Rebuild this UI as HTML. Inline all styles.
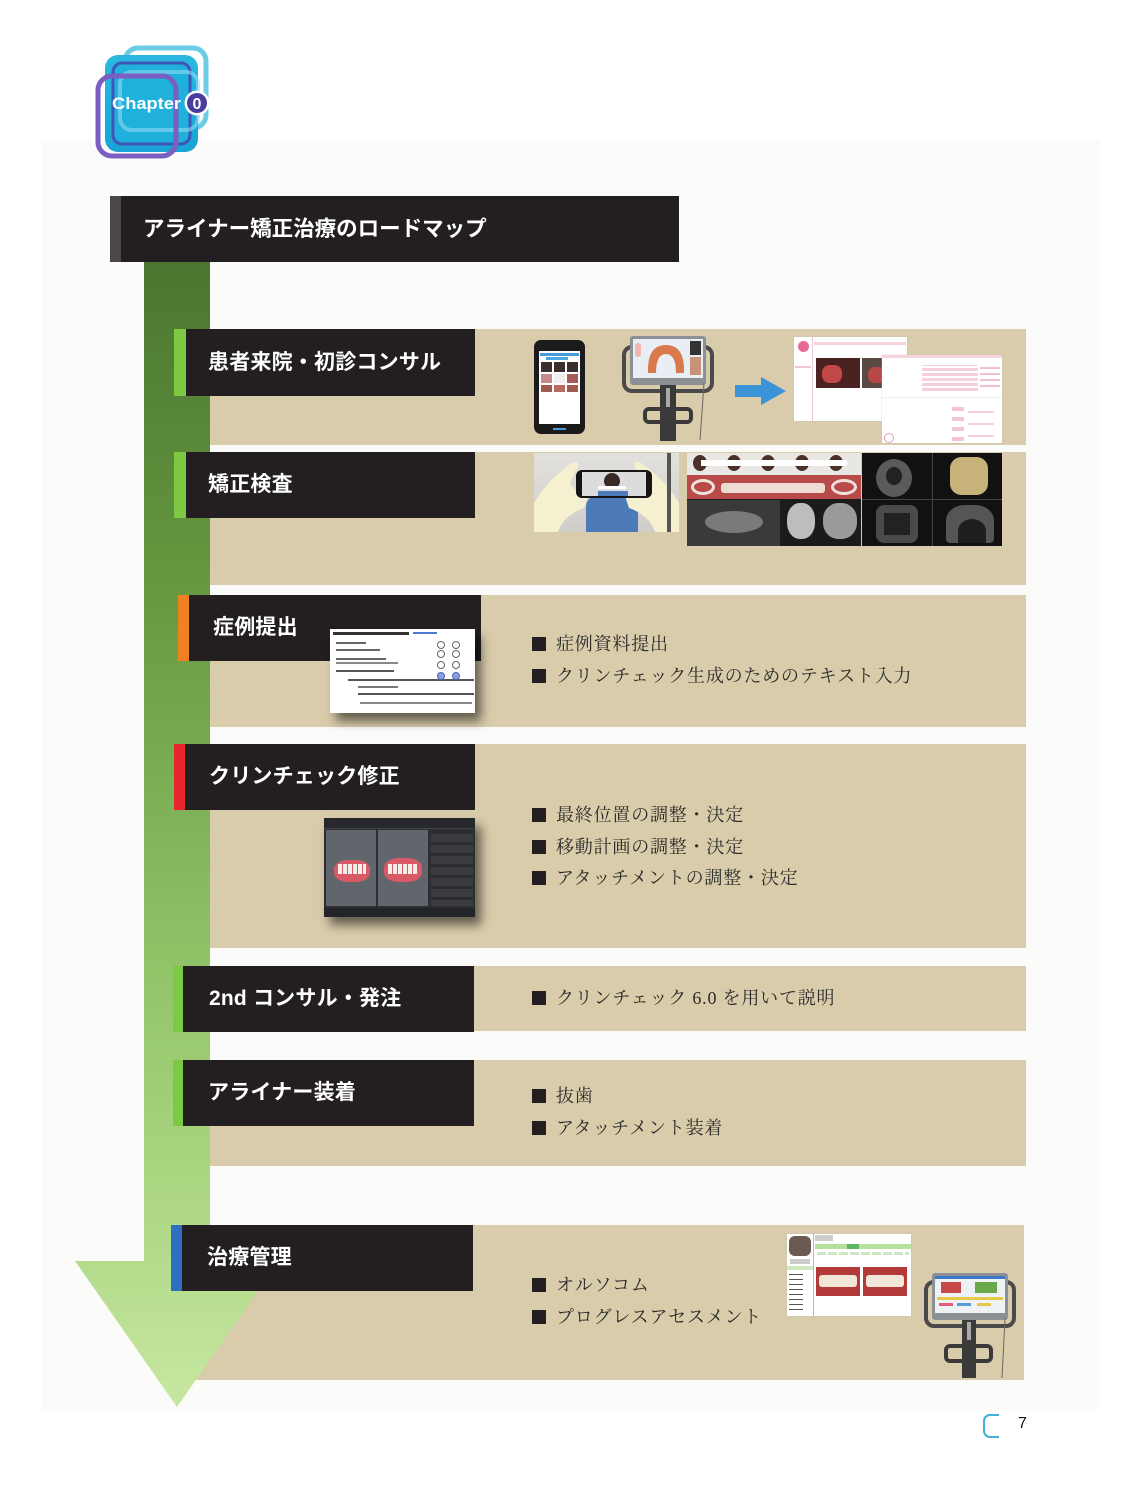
<!DOCTYPE html>
<html lang="ja">
<head>
<meta charset="utf-8">
<style>
  html,body{margin:0;padding:0;background:#fff;}
  #page{position:relative;width:1126px;height:1500px;overflow:hidden;background:#fff;}
  .abs{position:absolute;}
  .panel{position:absolute;background:#d9ccab;z-index:1;}
  .label{position:absolute;background:#231f20;z-index:3;height:66px;}
  .label .strip{position:absolute;left:0;top:0;bottom:0;width:11px;}
  .label .txt{position:absolute;top:0;height:66px;line-height:66px;color:#fff;
    font-family:"Liberation Sans","Noto Sans CJK JP",sans-serif;font-weight:bold;font-size:21px;white-space:nowrap;letter-spacing:0.2px;}
  .bul{position:absolute;z-index:4;left:532px;height:24px;white-space:nowrap;}
  .bul .sq{position:absolute;left:0;top:5px;width:14px;height:14px;background:#231f20;}
  .bul .t{position:absolute;left:24px;top:0;line-height:24px;font-size:18px;color:#2b2b2b;
    font-family:"Liberation Serif","Noto Serif CJK SC",serif;letter-spacing:0.8px;}
  .img{position:absolute;z-index:4;overflow:hidden;}
</style>
</head>
<body>
<div id="page">

  <!-- faint page background -->
  <div class="abs" style="left:42px;top:140px;width:1058px;height:1270px;background:#fbfbfa;"></div>

  <!-- Chapter logo -->
  <svg class="abs" style="left:90px;top:40px;z-index:5" width="130" height="125" viewBox="90 40 130 125">
    <defs>
      <linearGradient id="cy" x1="0" y1="0" x2="0" y2="1">
        <stop offset="0" stop-color="#2bb8e0"/>
        <stop offset="1" stop-color="#18a4d4"/>
      </linearGradient>
    </defs>
    <rect x="125" y="48" width="81" height="80" rx="13" fill="none" stroke="#6cccE6" stroke-width="5"/>
    <rect x="105" y="55" width="93" height="97" rx="13" fill="url(#cy)"/>
    <rect x="113" y="63" width="77" height="81" rx="9" fill="#1fb0dc" stroke="#3d56b8" stroke-width="3"/>
    <rect x="120" y="72" width="78" height="58" rx="12" fill="none" stroke="#8fdcf0" stroke-width="4" opacity="0.6"/>
    <rect x="98" y="76" width="78" height="80" rx="14" fill="none" stroke="#7a5ec0" stroke-width="5"/>
    <text x="112" y="109" font-family="Liberation Sans, sans-serif" font-weight="bold" font-size="17" fill="#fff" textLength="69" lengthAdjust="spacingAndGlyphs">Chapter</text>
    <circle cx="197" cy="103" r="12.5" fill="#fff"/>
    <circle cx="197" cy="103" r="10" fill="#4a3c9c"/>
    <text x="197" y="109" text-anchor="middle" font-family="Liberation Sans, sans-serif" font-weight="bold" font-size="16" fill="#fff">0</text>
  </svg>

  <!-- Title bar -->
  <div class="abs" style="left:110px;top:196px;width:569px;height:66px;background:#231f20;z-index:3;">
    <div class="abs" style="left:0;top:0;width:11px;height:66px;background:#4b464a;"></div>
    <div class="abs" style="left:33px;top:0;height:66px;line-height:66px;color:#fff;font-family:'Liberation Sans','Noto Sans CJK JP',sans-serif;font-weight:bold;font-size:21.5px;white-space:nowrap;">アライナー矯正治療のロードマップ</div>
  </div>

  <!-- Tan panels -->
  <div class="panel" style="left:209px;top:329px;width:817px;height:116px;"></div>
  <div class="panel" style="left:209px;top:452px;width:817px;height:133px;"></div>
  <div class="panel" style="left:209px;top:595px;width:817px;height:132px;"></div>
  <div class="panel" style="left:209px;top:744px;width:817px;height:204px;"></div>
  <div class="panel" style="left:209px;top:966px;width:817px;height:65px;"></div>
  <div class="panel" style="left:209px;top:1060px;width:817px;height:106px;"></div>
  <div class="panel" style="left:180px;top:1225px;width:844px;height:155px;"></div>

  <!-- Green arrow -->
  <svg class="abs" style="left:0;top:0;z-index:2" width="1126" height="1500">
    <defs>
      <linearGradient id="gr" gradientUnits="userSpaceOnUse" x1="0" y1="262" x2="0" y2="1407">
        <stop offset="0" stop-color="#4a762f"/>
        <stop offset="0.3" stop-color="#679a41"/>
        <stop offset="0.6" stop-color="#8fc266"/>
        <stop offset="0.8" stop-color="#aad581"/>
        <stop offset="1" stop-color="#c6e7a0"/>
      </linearGradient>
    </defs>
    <polygon points="144,262 210,262 210,1261 279,1261 177,1407 75,1261 144,1261" fill="url(#gr)"/>
  </svg>

  <!-- Labels -->
  <div class="label" style="left:174px;top:329px;width:301px;height:67px;">
    <div class="strip" style="background:#7dc943;width:12px;"></div>
    <div class="txt" style="left:34px;height:67px;line-height:67px;">患者来院・初診コンサル</div>
  </div>
  <div class="label" style="left:174px;top:452px;width:301px;">
    <div class="strip" style="background:#7dc943;width:12px;"></div>
    <div class="txt" style="left:34px;">矯正検査</div>
  </div>
  <div class="label" style="left:178px;top:595px;width:303px;">
    <div class="strip" style="background:#f08022;"></div>
    <div class="txt" style="left:35px;">症例提出</div>
  </div>
  <div class="label" style="left:174px;top:744px;width:301px;">
    <div class="strip" style="background:#e8262b;"></div>
    <div class="txt" style="left:35px;">クリンチェック修正</div>
  </div>
  <div class="label" style="left:173px;top:966px;width:301px;">
    <div class="strip" style="background:#7dc943;width:10px;"></div>
    <div class="txt" style="left:36px;">2nd コンサル・発注</div>
  </div>
  <div class="label" style="left:173px;top:1060px;width:301px;">
    <div class="strip" style="background:#7dc943;width:10px;"></div>
    <div class="txt" style="left:35px;">アライナー装着</div>
  </div>
  <div class="label" style="left:171px;top:1225px;width:302px;">
    <div class="strip" style="background:#2f6fc0;"></div>
    <div class="txt" style="left:36px;">治療管理</div>
  </div>

  <!-- Bullets -->
  <div class="bul" style="top:632px;"><div class="sq"></div><div class="t">症例資料提出</div></div>
  <div class="bul" style="top:664px;"><div class="sq"></div><div class="t">クリンチェック生成のためのテキスト入力</div></div>

  <div class="bul" style="top:803px;"><div class="sq"></div><div class="t">最終位置の調整・決定</div></div>
  <div class="bul" style="top:835px;"><div class="sq"></div><div class="t">移動計画の調整・決定</div></div>
  <div class="bul" style="top:866px;"><div class="sq"></div><div class="t">アタッチメントの調整・決定</div></div>

  <div class="bul" style="top:986px;"><div class="sq"></div><div class="t">クリンチェック 6.0 を用いて説明</div></div>

  <div class="bul" style="top:1084px;"><div class="sq"></div><div class="t">抜歯</div></div>
  <div class="bul" style="top:1116px;"><div class="sq"></div><div class="t">アタッチメント装着</div></div>

  <div class="bul" style="top:1273px;"><div class="sq"></div><div class="t">オルソコム</div></div>
  <div class="bul" style="top:1305px;"><div class="sq"></div><div class="t">プログレスアセスメント</div></div>

  <!-- ===== Row 1 images ===== -->
  <!-- phone -->
  <div class="img" style="left:534px;top:340px;width:51px;height:94px;background:#1b1b1b;border-radius:7px;">
    <div class="abs" style="left:5px;top:11px;width:41px;height:73px;background:#fff;"></div>
    <div class="abs" style="left:6px;top:13px;width:39px;height:3px;background:#4a9ad6;"></div>
    <div class="abs" style="left:12px;top:17px;width:22px;height:3px;background:#4aa8e0;"></div>
    <div class="abs" style="left:7px;top:22px;width:11px;height:10px;background:#3b2e2e;"></div>
    <div class="abs" style="left:20px;top:22px;width:11px;height:10px;background:#3b2e2e;"></div>
    <div class="abs" style="left:33px;top:22px;width:11px;height:10px;background:#3b2e2e;"></div>
    <div class="abs" style="left:7px;top:34px;width:11px;height:9px;background:#c98a8a;"></div>
    <div class="abs" style="left:20px;top:34px;width:11px;height:9px;background:#f2eeee;"></div>
    <div class="abs" style="left:33px;top:34px;width:11px;height:9px;background:#a65a5a;"></div>
    <div class="abs" style="left:7px;top:45px;width:11px;height:7px;background:#a05a50;"></div>
    <div class="abs" style="left:20px;top:45px;width:11px;height:7px;background:#b86a60;"></div>
    <div class="abs" style="left:33px;top:45px;width:11px;height:7px;background:#a05a50;"></div>
    <div class="abs" style="left:19px;top:88px;width:13px;height:2px;background:#4a9ad6;"></div>
  </div>
  <!-- scanner 1 -->
  <svg class="img" style="left:618px;top:333px;" width="100" height="110" viewBox="0 0 100 110">
    <rect x="6" y="14" width="88" height="44" rx="8" fill="none" stroke="#4a4a4a" stroke-width="4"/>
    <rect x="42" y="50" width="16" height="58" fill="#3a3a3a"/>
    <rect x="48" y="55" width="4" height="20" fill="#aaa"/>
    <rect x="27" y="76" width="46" height="13" rx="4" fill="none" stroke="#3a3a3a" stroke-width="4"/>
    <rect x="12" y="3" width="76" height="49" rx="3" fill="#8c9094"/>
    <rect x="15" y="6" width="70" height="39" fill="#e8eef3"/>
    <path d="M30 40 Q29 12 48 12 Q67 12 66 40 L58 40 Q58 21 48 21 Q38 21 38 40 Z" fill="#d97a4e"/>
    <rect x="72" y="8" width="11" height="14" fill="#333"/>
    <rect x="72" y="24" width="11" height="18" fill="#c7917a"/>
    <rect x="17" y="10" width="6" height="14" rx="3" fill="#f2b4b4"/>
    <line x1="86" y1="50" x2="82" y2="107" stroke="#666" stroke-width="1"/>
  </svg>
  <!-- blue arrow -->
  <svg class="img" style="left:734px;top:376px;" width="54" height="30" viewBox="0 0 54 30">
    <rect x="1" y="9" width="30" height="12" fill="#3b93d8"/>
    <polygon points="27,1 52,15 27,29" fill="#3b93d8"/>
  </svg>
  <!-- screenshots -->
  <div class="img" style="left:794px;top:337px;width:113px;height:84px;background:#fff;box-shadow:0 0 1px #bbb;">
    <div class="abs" style="left:0;top:0;width:18px;height:84px;border-right:1px solid #f0c6d4;"></div>
    <div class="abs" style="left:4px;top:4px;width:11px;height:11px;border-radius:50%;background:#e76b96;"></div>
    <div class="abs" style="left:1px;top:29px;width:16px;height:2px;background:#f3c5d5;"></div>
    <div class="abs" style="left:20px;top:5px;width:92px;height:3px;background:#f6d3df;"></div>
    <div class="abs" style="left:22px;top:21px;width:44px;height:30px;background:#4a2222;"></div>
    <div class="abs" style="left:28px;top:28px;width:20px;height:18px;background:#c24848;border-radius:40%;"></div>
    <div class="abs" style="left:68px;top:21px;width:44px;height:30px;background:#5a4a44;"></div>
    <div class="abs" style="left:74px;top:30px;width:18px;height:16px;background:#b84848;border-radius:40%;"></div>
  </div>
  <div class="img" style="left:882px;top:355px;width:120px;height:88px;background:#fff;box-shadow:0 0 1px #bbb;">
    <div class="abs" style="left:0;top:0;width:120px;height:3px;background:#f6d3df;"></div>
    <div class="abs" style="left:40px;top:10px;width:56px;height:26px;background:repeating-linear-gradient(0deg,#f7cfdc 0 3px,#fff 3px 5px);"></div>
    <div class="abs" style="left:98px;top:10px;width:20px;height:22px;background:repeating-linear-gradient(0deg,#f0c0d0 0 2px,#fff 2px 6px);"></div>
    <div class="abs" style="left:0;top:42px;width:120px;height:1px;background:#eee;"></div>
    <div class="abs" style="left:70px;top:48px;width:12px;height:38px;background:repeating-linear-gradient(0deg,#f3c5d5 0 4px,#fff 4px 10px);"></div>
    <div class="abs" style="left:86px;top:52px;width:26px;height:30px;background:repeating-linear-gradient(0deg,#f6d0dc 0 2px,#fff 2px 12px);"></div>
    <div class="abs" style="left:2px;top:78px;width:8px;height:8px;border-radius:50%;border:1px solid #e99bb6;"></div>
  </div>

  <!-- ===== Row 2 images ===== -->
  <div class="img" style="left:534px;top:453px;width:145px;height:79px;background:#d7d6d2;">
    <div class="abs" style="left:0;top:0;width:145px;height:79px;background:linear-gradient(180deg,#e2e1dd,#cfcdca);"></div>
    <div class="abs" style="left:52px;top:42px;width:52px;height:37px;background:#4d7ab8;border-radius:12px 12px 0 0;"></div>
    <svg class="abs" style="left:0;top:0" width="145" height="79">
      <path d="M0 79 L0 50 Q15 25 38 10 Q45 6 44 14 L36 30 Q40 40 55 40 L50 55 Q30 62 24 79 Z" fill="#f4f0d0"/>
      <path d="M145 79 L145 50 Q130 25 107 10 Q100 6 101 14 L109 30 Q105 40 90 40 L95 55 Q115 62 121 79 Z" fill="#f4f0d0"/>
    </svg>
    <div class="abs" style="left:42px;top:17px;width:76px;height:28px;background:#151515;border-radius:6px;"></div>
    <div class="abs" style="left:48px;top:19px;width:64px;height:24px;background:#dcdcdc;"></div>
    <div class="abs" style="left:70px;top:20px;width:16px;height:16px;border-radius:50%;background:#3a2a26;"></div>
    <div class="abs" style="left:64px;top:33px;width:28px;height:3px;background:#fff;"></div>
    <div class="abs" style="left:64px;top:38px;width:30px;height:5px;background:#4d7ab8;"></div>
    <div class="abs" style="left:133px;top:0;width:4px;height:79px;background:#555;"></div>
  </div>
  <div class="img" style="left:687px;top:453px;width:174px;height:93px;background:#1b1b1b;">
    <div class="abs" style="left:0;top:0;width:174px;height:22px;background:#e9e7e3;"></div>
    <div class="abs" style="left:6px;top:2px;width:14px;height:16px;border-radius:50%;background:#4a3028;"></div>
    <div class="abs" style="left:40px;top:2px;width:14px;height:16px;border-radius:50%;background:#4a3028;"></div>
    <div class="abs" style="left:74px;top:2px;width:14px;height:16px;border-radius:50%;background:#4a3028;"></div>
    <div class="abs" style="left:108px;top:2px;width:14px;height:16px;border-radius:50%;background:#4a3028;"></div>
    <div class="abs" style="left:142px;top:2px;width:14px;height:16px;border-radius:50%;background:#4a3028;"></div>
    <div class="abs" style="left:14px;top:7px;width:146px;height:6px;background:#fff;"></div>
    <div class="abs" style="left:0;top:22px;width:174px;height:24px;background:#b84a4a;"></div>
    <div class="abs" style="left:34px;top:30px;width:104px;height:10px;background:#ecdcd4;border-radius:3px;"></div>
    <div class="abs" style="left:4px;top:26px;width:24px;height:16px;border-radius:50%;border:3px solid #efe2da;box-sizing:border-box;"></div>
    <div class="abs" style="left:144px;top:26px;width:26px;height:16px;border-radius:50%;border:3px solid #efe2da;box-sizing:border-box;"></div>
    <div class="abs" style="left:0;top:47px;width:93px;height:46px;background:#3a3a3a;"></div>
    <div class="abs" style="left:18px;top:58px;width:58px;height:22px;border-radius:50%;background:#7a7a7a;"></div>
    <div class="abs" style="left:100px;top:50px;width:28px;height:36px;border-radius:45%;background:#bdbdbd;"></div>
    <div class="abs" style="left:136px;top:50px;width:34px;height:36px;border-radius:45%;background:#9a9a9a;"></div>
  </div>
  <div class="img" style="left:862px;top:453px;width:140px;height:93px;background:#111;">
    <div class="abs" style="left:14px;top:6px;width:36px;height:38px;border-radius:50%;background:#5a5a5a;"></div>
    <div class="abs" style="left:24px;top:14px;width:16px;height:18px;border-radius:50%;background:#222;"></div>
    <div class="abs" style="left:88px;top:4px;width:38px;height:38px;background:#c9b27a;border-radius:30%;"></div>
    <div class="abs" style="left:0;top:46px;width:140px;height:1px;background:#444;"></div>
    <div class="abs" style="left:70px;top:0;width:1px;height:93px;background:#444;"></div>
    <div class="abs" style="left:14px;top:52px;width:42px;height:38px;background:#4a4a4a;border-radius:20%;"></div>
    <div class="abs" style="left:22px;top:60px;width:26px;height:22px;background:#222;"></div>
    <div class="abs" style="left:84px;top:52px;width:48px;height:38px;background:#555;border-radius:40% 40% 10% 10%;"></div>
    <div class="abs" style="left:96px;top:66px;width:28px;height:24px;background:#1e1e1e;border-radius:50% 50% 0 0;"></div>
  </div>

  <!-- ===== Row 3 screenshot ===== -->
  <div class="img" style="left:330px;top:629px;width:145px;height:84px;background:#fff;box-shadow:6px 8px 10px rgba(0,0,0,0.55);">
    <div class="abs" style="left:3px;top:3px;width:76px;height:3px;background:#333;"></div>
    <div class="abs" style="left:83px;top:3px;width:24px;height:2px;background:#4a7ad0;"></div>
    <div class="abs" style="left:6px;top:13px;width:30px;height:2px;background:#666;"></div>
    <div class="abs" style="left:6px;top:20px;width:44px;height:2px;background:#666;"></div>
    <div class="abs" style="left:6px;top:29px;width:50px;height:2px;background:#666;"></div>
    <div class="abs" style="left:6px;top:33px;width:62px;height:2px;background:#888;"></div>
    <div class="abs" style="left:6px;top:41px;width:58px;height:2px;background:#555;"></div>
    <div class="abs" style="left:18px;top:50px;width:126px;height:2px;background:#555;"></div>
    <div class="abs" style="left:28px;top:57px;width:40px;height:2px;background:#777;"></div>
    <div class="abs" style="left:28px;top:64px;width:116px;height:2px;background:#555;"></div>
    <div class="abs" style="left:30px;top:73px;width:112px;height:2px;background:#888;"></div>
    <div class="abs" style="left:107px;top:12px;width:6px;height:6px;border-radius:50%;border:1px solid #666;"></div>
    <div class="abs" style="left:122px;top:12px;width:6px;height:6px;border-radius:50%;border:1px solid #666;"></div>
    <div class="abs" style="left:107px;top:21px;width:6px;height:6px;border-radius:50%;border:1px solid #666;"></div>
    <div class="abs" style="left:122px;top:21px;width:6px;height:6px;border-radius:50%;border:1px solid #666;"></div>
    <div class="abs" style="left:107px;top:32px;width:6px;height:6px;border-radius:50%;border:1px solid #666;"></div>
    <div class="abs" style="left:122px;top:32px;width:6px;height:6px;border-radius:50%;border:1px solid #666;"></div>
    <div class="abs" style="left:107px;top:43px;width:6px;height:6px;border-radius:50%;border:1px solid #4a6ac0;background:#8aa0e0;"></div>
    <div class="abs" style="left:122px;top:43px;width:6px;height:6px;border-radius:50%;border:1px solid #4a6ac0;background:#8aa0e0;"></div>
  </div>

  <!-- ===== Row 4 screenshot ===== -->
  <div class="img" style="left:324px;top:818px;width:151px;height:99px;background:#2c2e32;box-shadow:6px 8px 10px rgba(0,0,0,0.55);">
    <div class="abs" style="left:0;top:0;width:151px;height:10px;background:#26282b;border-bottom:1px solid #444;"></div>
    <div class="abs" style="left:2px;top:12px;width:50px;height:76px;background:#61666d;"></div>
    <div class="abs" style="left:54px;top:12px;width:50px;height:76px;background:#61666d;"></div>
    <div class="abs" style="left:10px;top:42px;width:36px;height:22px;border-radius:40%;background:#d95a66;"></div>
    <div class="abs" style="left:14px;top:46px;width:28px;height:10px;background:repeating-linear-gradient(90deg,#f3eee8 0 4px,#d95a66 4px 5px);"></div>
    <div class="abs" style="left:60px;top:40px;width:38px;height:24px;border-radius:40%;background:#d95a66;"></div>
    <div class="abs" style="left:64px;top:46px;width:30px;height:10px;background:repeating-linear-gradient(90deg,#f3eee8 0 4px,#d95a66 4px 5px);"></div>
    <div class="abs" style="left:107px;top:16px;width:42px;height:72px;background:repeating-linear-gradient(180deg,#3a3c40 0 8px,#2a2c30 8px 11px);"></div>
    <div class="abs" style="left:0;top:90px;width:151px;height:9px;background:#222427;"></div>
  </div>

  <!-- ===== Row 7 images ===== -->
  <div class="img" style="left:787px;top:1234px;width:124px;height:82px;background:#fff;box-shadow:0 0 1px #bbb;">
    <div class="abs" style="left:2px;top:2px;width:22px;height:20px;background:#6a5a52;border-radius:6px;"></div>
    <div class="abs" style="left:3px;top:25px;width:20px;height:5px;background:#ccc;"></div>
    <div class="abs" style="left:0;top:32px;width:26px;height:4px;background:#cfe8c0;"></div>
    <div class="abs" style="left:26px;top:0;width:1px;height:82px;background:#9fd08a;"></div>
    <div class="abs" style="left:2px;top:40px;width:14px;height:40px;background:repeating-linear-gradient(180deg,#555 0 1px,#fff 1px 5px);"></div>
    <div class="abs" style="left:28px;top:1px;width:18px;height:6px;background:#ccc;"></div>
    <div class="abs" style="left:28px;top:10px;width:96px;height:5px;background:#b5e0a0;"></div>
    <div class="abs" style="left:60px;top:10px;width:12px;height:5px;background:#5cb85c;"></div>
    <div class="abs" style="left:30px;top:18px;width:92px;height:3px;background:repeating-linear-gradient(90deg,#cde8c0 0 9px,#fff 9px 11px);"></div>
    <div class="abs" style="left:29px;top:33px;width:44px;height:29px;background:#b23a3a;"></div>
    <div class="abs" style="left:32px;top:41px;width:38px;height:12px;background:#f2e6d8;border-radius:3px;"></div>
    <div class="abs" style="left:76px;top:33px;width:44px;height:29px;background:#b23a3a;"></div>
    <div class="abs" style="left:79px;top:41px;width:38px;height:12px;background:#f2e6d8;border-radius:3px;"></div>
  </div>
  <svg class="img" style="left:923px;top:1270px;" width="94" height="110" viewBox="0 0 94 110">
    <rect x="3" y="12" width="88" height="44" rx="8" fill="none" stroke="#4a4a4a" stroke-width="4"/>
    <rect x="39" y="48" width="14" height="60" fill="#3a3a3a"/>
    <rect x="44" y="52" width="4" height="18" fill="#aaa"/>
    <rect x="23" y="76" width="45" height="15" rx="4" fill="none" stroke="#3a3a3a" stroke-width="4"/>
    <rect x="9" y="3" width="76" height="47" rx="3" fill="#8c9094"/>
    <rect x="12" y="6" width="70" height="37" fill="#eef2f4"/>
    <rect x="12" y="6" width="70" height="3" fill="#3a7ac8"/>
    <rect x="18" y="12" width="20" height="11" fill="#c84848"/>
    <rect x="52" y="12" width="22" height="11" fill="#6aa84a"/>
    <rect x="14" y="27" width="66" height="3" fill="#e6c84a"/>
    <rect x="16" y="33" width="14" height="3" fill="#e85a7a"/>
    <rect x="34" y="33" width="14" height="3" fill="#5a9ad8"/>
    <rect x="54" y="33" width="14" height="3" fill="#e6c84a"/>
    <line x1="82" y1="48" x2="79" y2="108" stroke="#666" stroke-width="1"/>
  </svg>

  <!-- Page number -->
  <div class="abs" style="left:983px;top:1414px;width:14px;height:20px;border:2px solid #3fb0d8;border-right:none;border-radius:7px 0 0 7px;"></div>
  <div class="abs" style="left:1018px;top:1414px;font-family:'Liberation Sans',sans-serif;font-size:16px;color:#111;line-height:20px;">7</div>

</div>
</body>
</html>
